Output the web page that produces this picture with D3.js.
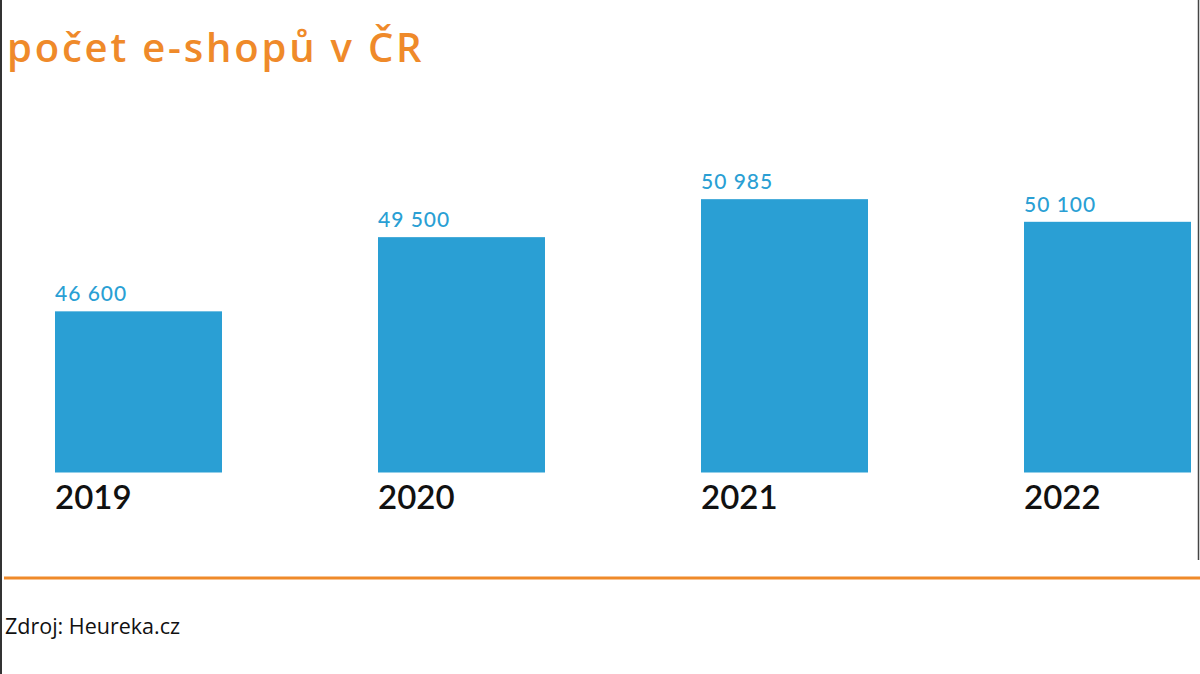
<!DOCTYPE html>
<html>
<head>
<meta charset="utf-8">
<script src="https://cdn.jsdelivr.net/npm/d3@7"></script>
<style>
  html, body { margin: 0; padding: 0; background: #fff; }
  #chart { width: 1200px; height: 674px; }
</style>
</head>
<body>
<div id="chart"></div>
<script>
// data
const years = ["2019", "2020", "2021", "2022"];
const shops = [46600, 49500, 50985, 50100];
const valueLabels = ["46 600", "49 500", "50 985", "50 100"];
const title = "počet e-shopů v ČR";
const source = "Zdroj: Heureka.cz";

const width = 1200, height = 674;
const blue = "#2a9fd4", orange = "#ef8a2a";

const svg = d3.select("#chart").append("svg")
    .attr("width", width)
    .attr("height", height);

// frame edges
svg.append("line").attr("x1", 1).attr("x2", 1).attr("y1", 0).attr("y2", height)
    .attr("stroke", "#333").attr("stroke-width", 2);
svg.append("line").attr("x1", 1198.5).attr("x2", 1198.5).attr("y1", 0).attr("y2", 560)
    .attr("stroke", "#444").attr("stroke-width", 1.5);

// title font in the original has a very tall x-height, so go bigger here
svg.append("text")
    .attr("x", 7).attr("y", 62)
    .attr("fill", orange)
    .style("font-family", "'Open Sans', sans-serif")
    .style("font-size", "40px")
    .style("font-weight", "600")
    .style("letter-spacing", "2.8px")
    .text(title);

const x = d3.scaleBand()
    .domain(years)
    .range([55, 1191])
    .paddingInner(0.483)
    .paddingOuter(0)
    .align(0);

// bars do not start at zero in the original
const y = d3.scaleLinear()
    .domain([40300, 52000])
    .range([472.5, 173.2]);

const rows = years.map((yr, i) => ({ year: yr, value: shops[i], label: valueLabels[i] }));

const g = svg.append("g");

g.selectAll("rect")
    .data(rows)
    .enter().append("rect")
    .attr("x", d => x(d.year))
    .attr("y", d => y(d.value))
    .attr("width", x.bandwidth())
    .attr("height", d => y.range()[0] - y(d.value))
    .attr("fill", blue);

g.selectAll("text.val")
    .data(rows)
    .enter().append("text")
    .attr("class", "val")
    .attr("x", d => x(d.year))
    .attr("y", d => y(d.value) - 10)
    .attr("fill", blue)
    .style("font-family", "Lato, sans-serif")
    .style("font-size", "21px")
    .style("font-weight", "500")
    .style("letter-spacing", "1px")
    .text(d => d.label);

g.selectAll("text.year")
    .data(rows)
    .enter().append("text")
    .attr("class", "year")
    .attr("x", d => x(d.year))
    .attr("y", y.range()[0] + 36.5)
    .attr("fill", "#111")
    .style("font-family", "Lato, sans-serif")
    .style("font-size", "33px")
    .style("font-weight", "600")
    .text(d => d.year);

// orange rule and source
svg.append("line")
    .attr("x1", 4).attr("x2", width)
    .attr("y1", 578).attr("y2", 578)
    .attr("stroke", orange).attr("stroke-width", 3);

svg.append("text")
    .attr("x", 5).attr("y", 634)
    .attr("fill", "#111")
    .style("font-family", "'Open Sans', sans-serif")
    .style("font-size", "21.5px")
    .text(source);
</script>
</body>
</html>
